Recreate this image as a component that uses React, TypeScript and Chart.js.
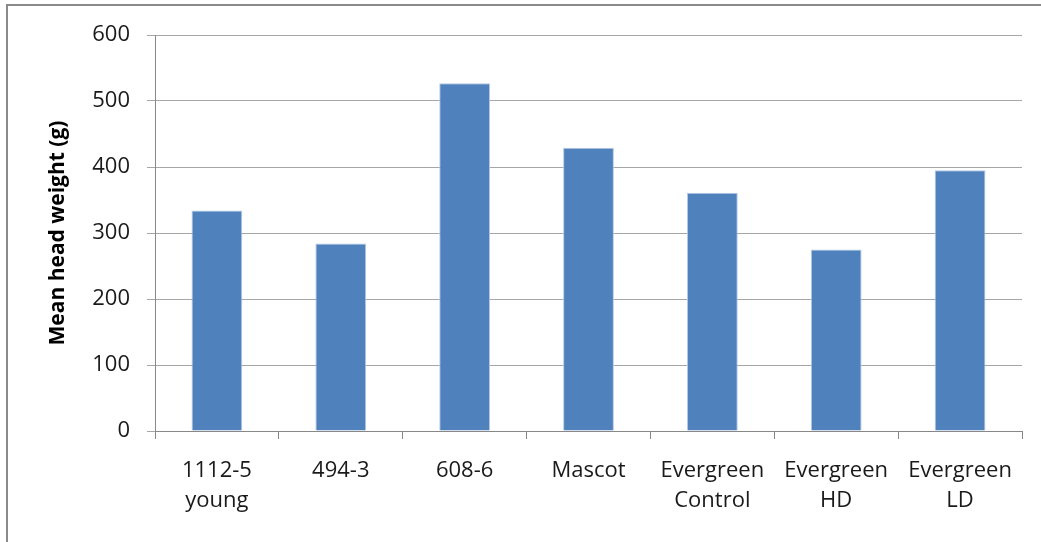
import React, { useEffect, useRef } from "react";
import { Chart, registerables } from "chart.js";

Chart.register(...registerables);

const categories: string[][] = [
  ["1112-5", "young"],
  ["494-3"],
  ["608-6"],
  ["Mascot"],
  ["Evergreen", "Control"],
  ["Evergreen", "HD"],
  ["Evergreen", "LD"],
];
const meanHeadWeight: number[] = [334, 284, 527, 429, 361, 275, 395];
const yTicks = { min: 0, max: 600, step: 100 };
const yTitle = "Mean head weight (g)";

const FONT = "'Open Sans', 'DejaVu Sans', sans-serif";

export default function App() {
  const ref = useRef<HTMLCanvasElement | null>(null);
  useEffect(() => {
    document.body.style.margin = "0";
    const ctx = ref.current!;
    const chart = new Chart(ctx, {
      type: "bar",
      data: {
        labels: categories,
        datasets: [
          {
            data: meanHeadWeight,
            backgroundColor: "#4F81BD",
            borderColor: "#B4C9E4",
            borderWidth: 1,
            barPercentage: 0.41,
            categoryPercentage: 1,
          },
        ],
      },
      options: {
        animation: false,
        responsive: false,
        maintainAspectRatio: false,
        layout: { padding: { top: 35, right: 19, left: 0, bottom: 0 } },
        plugins: { legend: { display: false }, tooltip: { enabled: false } },
        scales: {
          x: {
            afterFit: (s: any) => {
              s.height = 111;
            },
            grid: {
              display: true,
              drawOnChartArea: false,
              drawTicks: true,
              tickLength: 8,
              color: "#888888",
              offset: true,
            },
            border: { display: true, color: "#888888", width: 1 },
            ticks: {
              color: "#1a1a1a",
              font: { family: FONT, size: 22, lineHeight: 1.36 },
              padding: 17,
              maxRotation: 0,
              autoSkip: false,
            },
          },
          y: {
            min: yTicks.min,
            max: yTicks.max,
            afterFit: (s: any) => {
              s.width = 155;
            },
            grid: {
              color: "#A6A6A6",
              lineWidth: 1,
              tickLength: 8,
              drawTicks: true,
            },
            border: { display: true, color: "#888888", width: 1 },
            ticks: {
              stepSize: yTicks.step,
              color: "#1a1a1a",
              font: { family: FONT, size: 22 },
              padding: 17,
            },
            title: {
              display: true,
              text: yTitle,
              color: "#000000",
              font: { family: FONT, size: 21, weight: "bold" },
              padding: { top: 45, bottom: 0 },
            },
          },
        },
      },
    });
    return () => chart.destroy();
  }, []);
  return (
    <div style={{ position: "relative", width: 1041, height: 542, background: "#fff" }}>
      <div
        style={{
          position: "absolute",
          left: 6,
          top: 4,
          width: 1100,
          height: 600,
          borderTop: "2px solid #8a8a8a",
          borderLeft: "2px solid #8a8a8a",
          boxSizing: "border-box",
        }}
      />
      <canvas
        ref={ref}
        width={1041}
        height={542}
        style={{ position: "absolute", left: 0, top: 0, width: 1041, height: 542 }}
      />
    </div>
  );
}
